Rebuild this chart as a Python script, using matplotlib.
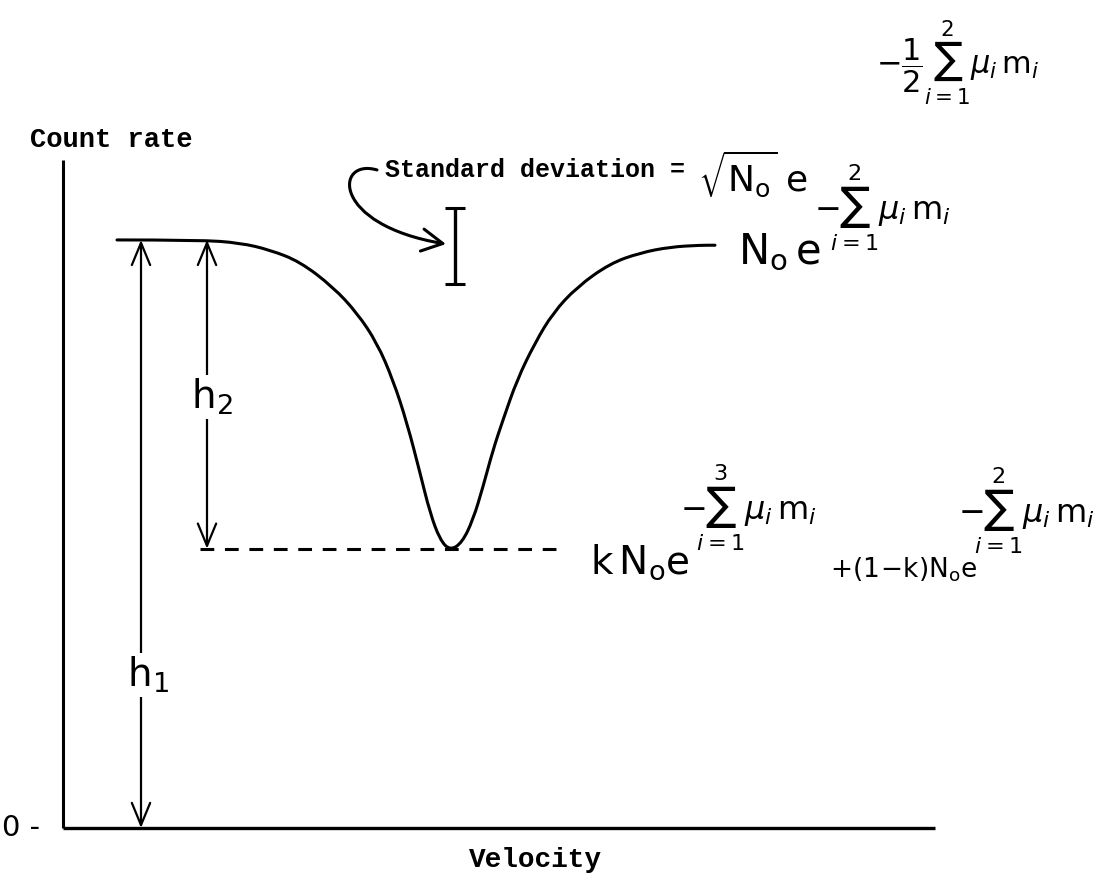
import matplotlib
matplotlib.use("Agg")
import matplotlib.pyplot as plt
from matplotlib.patches import FancyArrowPatch, ArrowStyle, PathPatch
from matplotlib.path import Path

plt.rcParams['mathtext.fontset'] = 'dejavusans'

# absorption dip (velocity in arbitrary units, count rate relative to N0 e^-sum)
velocity = [-3.35, -2.52, -2.12, -1.82, -1.52, -1.19, -0.95, -0.75, -0.59, -0.45,
            -0.32, -0.22, -0.12, -0.02, 0.10, 0.21, 0.31, 0.41, 0.51, 0.65,
            0.83, 1.01, 1.25, 1.58, 1.88, 2.18, 2.48, 2.63]
count_rate = [1.000, 1.000, 0.995, 0.983, 0.963, 0.920, 0.876, 0.825, 0.762, 0.689,
              0.604, 0.536, 0.490, 0.472, 0.485, 0.524, 0.580, 0.643, 0.694, 0.762,
              0.825, 0.876, 0.920, 0.960, 0.978, 0.988, 0.991, 0.991]

off_resonance = 1.0
dip_minimum = 0.475
err_v, err_c, err_sd = 0.03, 0.990, 0.065

axis_v = [-3.89, 4.83]
axis_top = 1.136
h1_v, h2_v = -3.11, -2.45
dash_v = [-2.52, 1.11]

fig = plt.figure(figsize=(11.1, 8.82), dpi=100)
ax = fig.add_axes([0, 0, 1, 1])
ax.set_xlim(-4.52, 6.58)
ax.set_ylim(-0.0918, 1.408)
ax.axis('off')

# axes drawn by hand
ax.plot([axis_v[0], axis_v[0]], [0, axis_top], color='black', lw=2.2, solid_capstyle='butt')
ax.plot(axis_v, [0, 0], color='black', lw=2.4, solid_capstyle='butt')

# spectrum: quadratic bezier through the sampled points so the pen line stays smooth
pts = list(zip(velocity, count_rate))
verts, codes = [pts[0]], [Path.MOVETO]
for i in range(1, len(pts) - 1):
    mid = ((pts[i][0] + pts[i + 1][0]) / 2, (pts[i][1] + pts[i + 1][1]) / 2)
    verts += [pts[i], mid]
    codes += [Path.CURVE3, Path.CURVE3]
verts.append(pts[-1])
codes.append(Path.LINETO)
ax.add_patch(PathPatch(Path(verts, codes), facecolor='none', edgecolor='black',
                       lw=2.2, capstyle='round'))

ax.plot(dash_v, [dip_minimum, dip_minimum], color='black', lw=2.2, ls=(0, (4.5, 3.5)))

# statistical error bar
ax.errorbar([err_v], [err_c], yerr=[err_sd], fmt='none', ecolor='black',
            elinewidth=2.4, capsize=7, capthick=2.2)


def dim_arrow(x, y0, y1):
    ax.add_patch(FancyArrowPatch((x, y0), (x, y1),
                                 arrowstyle=ArrowStyle('<->', head_length=0.8, head_width=0.33),
                                 mutation_scale=20, lw=1.6, color='black',
                                 shrinkA=0, shrinkB=0))


dim_arrow(h1_v, 0, off_resonance)
dim_arrow(h2_v, dip_minimum, off_resonance)

# hooked pointer from the label to the error bar
hook = Path([(-0.75, 1.119), (-1.17, 1.140), (-1.22, 1.026), (-0.06, 0.993)],
            [Path.MOVETO, Path.CURVE4, Path.CURVE4, Path.CURVE4])
ax.add_patch(FancyArrowPatch(path=hook,
                             arrowstyle=ArrowStyle('->', head_length=0.75, head_width=0.4),
                             mutation_scale=20, lw=2.2, color='black'))

mono = dict(family='Liberation Mono', fontweight='bold', color='black')
ax.text(-4.22, 1.170, 'Count rate', fontsize=19.5, ha='left', va='center', **mono)
ax.text(0.83, -0.054, 'Velocity', fontsize=20, ha='center', va='center', **mono)
ax.text(-0.67, 1.119, 'Standard deviation =', fontsize=18, ha='left', va='center', **mono)
ax.text(-4.50, 0.0, '0 -', fontsize=21, ha='left', va='center')

box = dict(facecolor='white', edgecolor='none', pad=1)
ax.text(-2.40, 0.733, r'$\mathrm{h_2}$', fontsize=28, ha='center', va='center', bbox=box)
ax.text(-3.04, 0.260, r'$\mathrm{h_1}$', fontsize=28, ha='center', va='center', bbox=box)

exp_sum2 = r'$-\!\!\sum_{i=1}^{2}\mu_i\,\mathrm{m}_i$'
exp_sum3 = r'$-\!\!\sum_{i=1}^{3}\mu_i\,\mathrm{m}_i$'

ax.text(2.46, 1.112, r'$\sqrt{\mathrm{N_o}}\;\mathrm{e}$', fontsize=26, ha='left', va='center')
ax.text(4.24, 1.300, r'$-\dfrac{1}{2}\sum_{i=1}^{2}\mu_i\,\mathrm{m}_i$', fontsize=22,
        ha='left', va='center')

ax.text(2.86, 0.980, r'$\mathrm{N_o\,e}$', fontsize=30, ha='left', va='center')
ax.text(3.62, 1.055, exp_sum2, fontsize=23, ha='left', va='center')

ax.text(1.38, 0.452, r'$\mathrm{k\,N_o e}$', fontsize=28, ha='left', va='center')
ax.text(2.28, 0.545, exp_sum3, fontsize=23, ha='left', va='center')

ax.text(3.78, 0.440, r'$\mathrm{+(1\!-\!k)N_o e}$', fontsize=19, ha='left', va='center')
ax.text(5.06, 0.540, exp_sum2, fontsize=23, ha='left', va='center')

fig.savefig('out.png', dpi=100, facecolor='white')
